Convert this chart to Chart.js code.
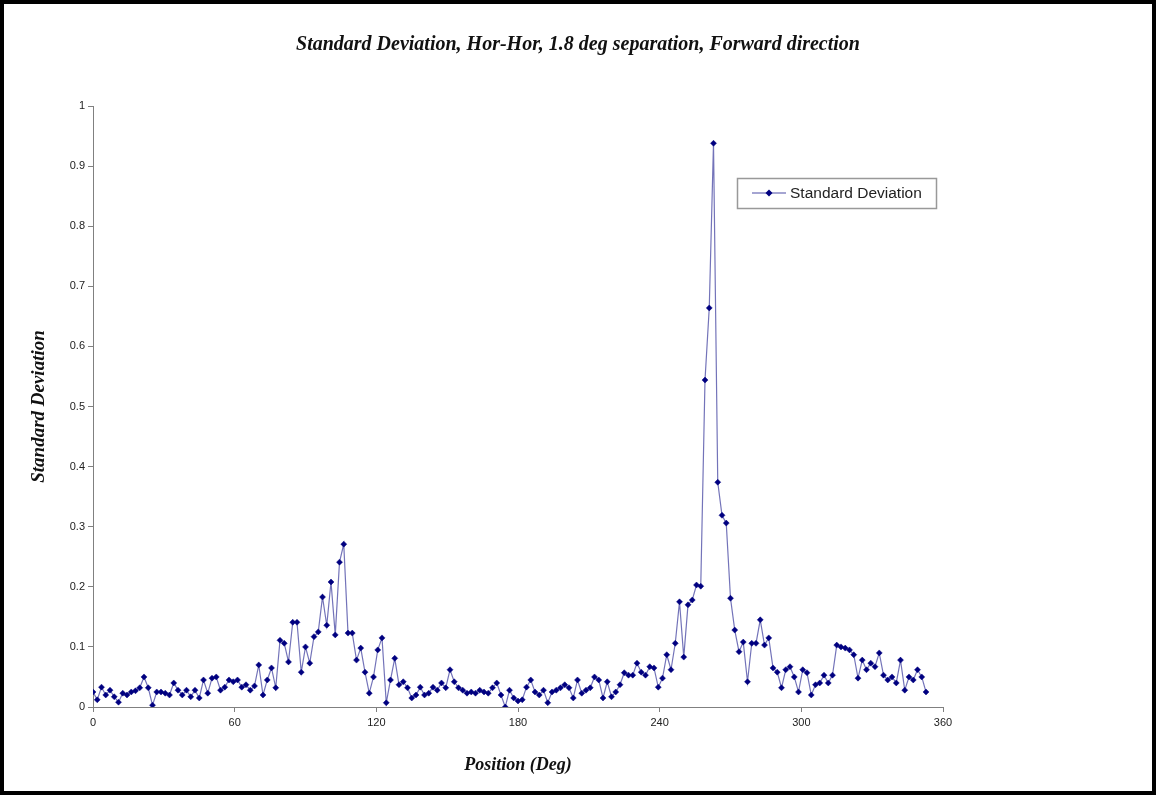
<!DOCTYPE html>
<html>
<head>
<meta charset="utf-8">
<script src="https://cdn.jsdelivr.net/npm/chart.js@4/dist/chart.umd.min.js"></script>
<style>
  html, body { margin: 0; padding: 0; background: #fff; }
  #wrap { position: relative; width: 1156px; height: 795px; overflow: hidden; }
  #chart { position: absolute; left: 0; top: 0; }
  #frame { position: absolute; left: 0; top: 0; width: 1156px; height: 795px;
           box-sizing: border-box; border: 4px solid #000; pointer-events: none; }
</style>
</head>
<body>
<div id="wrap">
  <canvas id="chart" width="1156" height="795"></canvas>
  <div id="frame"></div>
</div>
<script>
// positions are 1.8 deg apart (see title)
const STEP_DEG = 1.8;

// standard deviation, one value per position
const stdDev = [
  0.025, 0.012, 0.033, 0.020, 0.028, 0.017, 0.008, 0.023, 0.020, 0.025,
  0.027, 0.032, 0.050, 0.032, 0.003, 0.025, 0.025, 0.023, 0.020, 0.040,
  0.028, 0.020, 0.028, 0.017, 0.028, 0.015, 0.045, 0.023, 0.048, 0.050,
  0.028, 0.033, 0.045, 0.042, 0.045, 0.033, 0.037, 0.028, 0.035, 0.070,
  0.020, 0.045, 0.065, 0.032, 0.111, 0.106, 0.075, 0.141, 0.141, 0.058,
  0.100, 0.073, 0.117, 0.125, 0.183, 0.136, 0.208, 0.120, 0.241, 0.271,
  0.123, 0.123, 0.078, 0.098, 0.058, 0.023, 0.050, 0.095, 0.115, 0.007,
  0.045, 0.081, 0.037, 0.042, 0.032, 0.015, 0.020, 0.033, 0.020, 0.023,
  0.033, 0.028, 0.040, 0.032, 0.062, 0.042, 0.032, 0.028, 0.023, 0.025,
  0.023, 0.028, 0.025, 0.023, 0.032, 0.040, 0.020, 0.000, 0.028, 0.015,
  0.010, 0.012, 0.033, 0.045, 0.025, 0.020, 0.028, 0.007, 0.025, 0.028,
  0.032, 0.037, 0.032, 0.015, 0.045, 0.023, 0.028, 0.032, 0.050, 0.045,
  0.015, 0.042, 0.017, 0.025, 0.037, 0.057, 0.053, 0.053, 0.073, 0.058,
  0.053, 0.067, 0.065, 0.033, 0.048, 0.087, 0.062, 0.106, 0.175, 0.083,
  0.170, 0.178, 0.203, 0.201, 0.544, 0.664, 0.938, 0.374, 0.319, 0.306,
  0.181, 0.128, 0.092, 0.108, 0.042, 0.106, 0.106, 0.145, 0.103, 0.115,
  0.065, 0.058, 0.032, 0.062, 0.067, 0.050, 0.025, 0.062, 0.057, 0.020,
  0.037, 0.040, 0.053, 0.040, 0.053, 0.103, 0.100, 0.098, 0.095, 0.087,
  0.048, 0.078, 0.062, 0.073, 0.067, 0.090, 0.053, 0.045, 0.050, 0.040,
  0.078, 0.028, 0.050, 0.045, 0.062, 0.050, 0.025
];

const xTicks = [0, 60, 120, 180, 240, 300, 360];
const yTicks = [0, 0.1, 0.2, 0.3, 0.4, 0.5, 0.6, 0.7, 0.8, 0.9, 1];

const seriesLabel = 'Standard Deviation';
const chartTitle = 'Standard Deviation, Hor-Hor, 1.8 deg separation, Forward direction';

const NAVY = '#000080';
const AXIS_GRAY = '#808080';
const SERIF = '"Liberation Serif", "Times New Roman", serif';
const SANS = '"Liberation Sans", Arial, sans-serif';

const points = stdDev.map((v, i) => ({ x: +(i * STEP_DEG).toFixed(1), y: v }));

// legend box drawn inside the plot, top right like the original
const boxLegend = {
  id: 'boxLegend',
  afterDraw(chart) {
    const ctx = chart.ctx;
    const x = 737, y = 178, w = 199, h = 30;
    ctx.save();
    ctx.fillStyle = '#fff';
    ctx.fillRect(x, y, w, h);
    ctx.strokeStyle = '#999';
    ctx.lineWidth = 1.5;
    ctx.strokeRect(x + 0.5, y + 0.5, w, h);

    const cy = y + h / 2;
    ctx.strokeStyle = 'rgba(0,0,128,0.7)';
    ctx.lineWidth = 1.2;
    ctx.beginPath(); ctx.moveTo(752, cy); ctx.lineTo(786, cy); ctx.stroke();
    ctx.fillStyle = NAVY;
    ctx.beginPath();
    ctx.moveTo(769, cy - 3.5); ctx.lineTo(772.5, cy); ctx.lineTo(769, cy + 3.5); ctx.lineTo(765.5, cy);
    ctx.closePath(); ctx.fill();

    ctx.fillStyle = '#222';
    ctx.font = '15.5px ' + SANS;
    ctx.textBaseline = 'middle';
    ctx.fillText(chart.data.datasets[0].label, 790, cy + 1);
    ctx.restore();
  }
};

const ctx = document.getElementById('chart').getContext('2d');
new Chart(ctx, {
  type: 'line',
  data: {
    datasets: [{
      label: seriesLabel,
      data: points,
      borderColor: 'rgba(0,0,128,0.55)',
      borderWidth: 1.2,
      pointStyle: 'rectRot',
      pointRadius: 3,
      pointBackgroundColor: NAVY,
      pointBorderColor: NAVY,
      pointBorderWidth: 0.5,
      tension: 0
    }]
  },
  options: {
    responsive: false,
    animation: false,
    layout: { padding: 0 },
    plugins: {
      legend: { display: false },
      tooltip: { enabled: false },
      title: {
        display: true,
        text: chartTitle,
        color: '#111',
        font: { family: SERIF, size: 20, style: 'italic', weight: 'bold' },
        padding: { top: 33, bottom: 49 }
      }
    },
    scales: {
      x: {
        type: 'linear',
        min: 0, max: 360,
        afterBuildTicks: s => { s.ticks = xTicks.map(v => ({ value: v })); },
        afterFit: s => { s.height = 88; },
        border: { color: AXIS_GRAY, width: 1 },
        grid: { drawOnChartArea: false, color: AXIS_GRAY, tickLength: 5 },
        ticks: { color: '#222', padding: 4, maxRotation: 0, font: { family: SANS, size: 11 } },
        title: {
          display: true,
          text: 'Position (Deg)',
          color: '#111',
          font: { family: SERIF, size: 18, style: 'italic', weight: 'bold' },
          padding: { top: 0, bottom: 19 }
        }
      },
      y: {
        min: 0, max: 1,
        afterBuildTicks: s => { s.ticks = yTicks.map(v => ({ value: v })); },
        afterFit: s => { s.width = 93; },
        border: { color: AXIS_GRAY, width: 1 },
        grid: { drawOnChartArea: false, color: AXIS_GRAY, tickLength: 5 },
        ticks: {
          color: '#222', padding: 3,
          font: { family: SANS, size: 11 },
          callback: v => String(+v.toFixed(1))
        },
        title: {
          display: true,
          text: 'Standard Deviation',
          color: '#111',
          font: { family: SERIF, size: 19, style: 'italic', weight: 'bold' },
          padding: { top: 28, bottom: 0 }
        }
      },
      // empty right-hand scale, only keeps the plot narrower so the title centres on the page
      spacer: {
        position: 'right',
        display: true,
        afterFit: s => { s.width = 213; },
        border: { display: false },
        grid: { display: false },
        ticks: { display: false }
      }
    }
  },
  plugins: [boxLegend]
});
</script>
</body>
</html>
